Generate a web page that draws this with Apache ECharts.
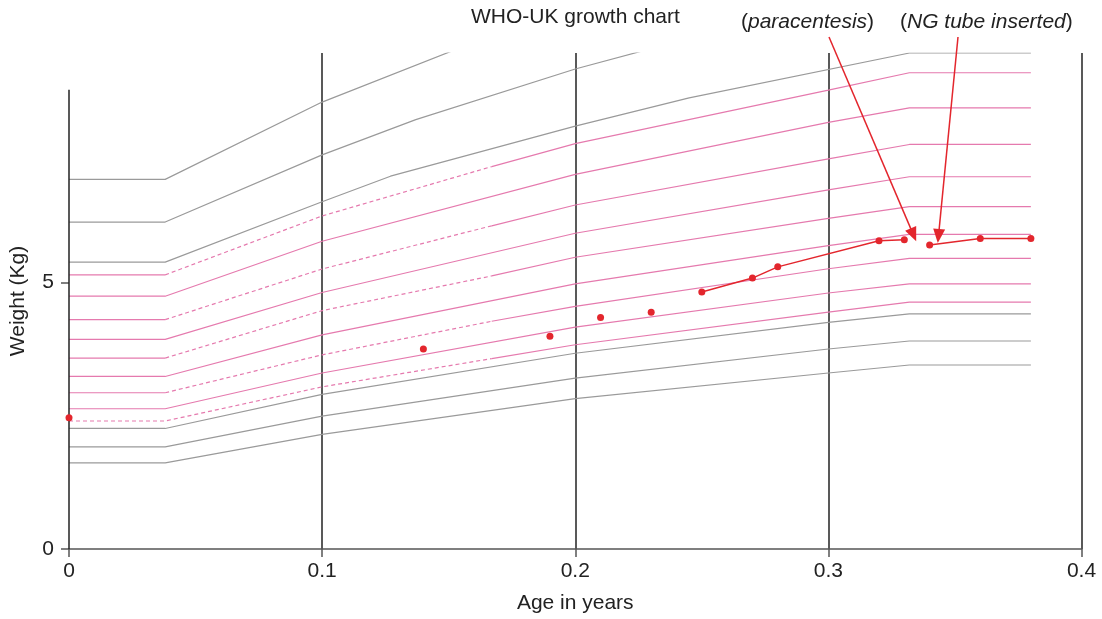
<!DOCTYPE html>
<html>
<head>
<meta charset="utf-8">
<title>WHO-UK growth chart</title>
<script src="https://cdn.jsdelivr.net/npm/echarts@6/dist/echarts.min.js"></script>
<style>
	html, body { margin: 0; padding: 0; background: #fff; }
	#chart { width: 1102px; height: 619px; }
</style>
</head>
<body>
<div id="chart"></div>
<script>
// reference curves, [age in years, weight kg]
var greyTop1 = [[0, 6.93], [0.038, 6.93], [0.1, 8.38], [0.16, 9.5]];
var greyTop2 = [[0, 6.13], [0.038, 6.13], [0.1, 7.39], [0.137, 8.05], [0.2, 9.0], [0.24, 9.51]];
var greyTop3 = [[0, 5.38], [0.038, 5.38], [0.1, 6.51], [0.127, 6.99], [0.2, 7.93], [0.245, 8.46], [0.332, 9.3], [0.38, 9.3]];
var greyLow1 = [[0, 2.26], [0.038, 2.26], [0.1, 2.9], [0.2, 3.67], [0.3, 4.25], [0.332, 4.41], [0.38, 4.41]];
var greyLow2 = [[0, 1.915], [0.038, 1.915], [0.1, 2.49], [0.2, 3.205], [0.3, 3.75], [0.332, 3.9], [0.38, 3.9]];
var greyLow3 = [[0, 1.615], [0.038, 1.615], [0.1, 2.15], [0.2, 2.82], [0.3, 3.3], [0.332, 3.45], [0.38, 3.45]];

// pink centiles: solid parts and dashed parts
var pink1Flat = [[0, 5.14], [0.038, 5.14]];
var pink1Dash = [[0.038, 5.14], [0.1, 6.245], [0.167, 7.17]];
var pink1 = [[0.167, 7.17], [0.2, 7.6], [0.3, 8.605], [0.332, 8.93], [0.38, 8.93]];
var pink2 = [[0, 4.74], [0.038, 4.74], [0.1, 5.77], [0.2, 7.025], [0.3, 8.0], [0.332, 8.27], [0.38, 8.27]];
var pink3Flat = [[0, 4.3], [0.038, 4.3]];
var pink3Dash = [[0.038, 4.3], [0.1, 5.25], [0.167, 6.06]];
var pink3 = [[0.167, 6.06], [0.2, 6.45], [0.3, 7.315], [0.332, 7.585], [0.38, 7.585]];
var pink4 = [[0, 3.93], [0.038, 3.93], [0.1, 4.81], [0.2, 5.92], [0.3, 6.735], [0.332, 6.98], [0.38, 6.98]];
var pink5Flat = [[0, 3.58], [0.038, 3.58]];
var pink5Dash = [[0.038, 3.58], [0.1, 4.47], [0.167, 5.12]];
var pink5 = [[0.167, 5.12], [0.2, 5.47], [0.3, 6.2], [0.332, 6.42], [0.38, 6.42]];
var pink6 = [[0, 3.235], [0.038, 3.235], [0.1, 4.015], [0.2, 4.97], [0.3, 5.69], [0.332, 5.9], [0.38, 5.9]];
var pink7Flat = [[0, 2.93], [0.038, 2.93]];
var pink7Dash = [[0.038, 2.93], [0.1, 3.64], [0.167, 4.27]];
var pink7 = [[0.167, 4.27], [0.2, 4.55], [0.3, 5.255], [0.332, 5.45], [0.38, 5.45]];
var pink8 = [[0, 2.63], [0.038, 2.63], [0.1, 3.3], [0.2, 4.16], [0.3, 4.8], [0.332, 4.97], [0.38, 4.97]];
var pink9Dash = [[0, 2.4], [0.038, 2.4], [0.1, 3.04], [0.167, 3.57]];
var pink9 = [[0.167, 3.57], [0.2, 3.83], [0.3, 4.44], [0.332, 4.63], [0.38, 4.63]];

// patient weights
var patientSingle = [[0, 2.46], [0.14, 3.75], [0.19, 3.99], [0.21, 4.34], [0.23, 4.44]];
var patientRun1 = [[0.25, 4.82], [0.27, 5.08], [0.28, 5.29], [0.32, 5.78], [0.33, 5.8]];
var patientRun2 = [[0.34, 5.7], [0.36, 5.82], [0.38, 5.82]];

// arrow tips (age, kg)
var paraTip = [0.3336, 5.89];
var ngTip = [0.3435, 5.87];

var leftAxisLine = [[0, 0], [0, 8.61]];

var GREY = '#9a9a9a';
var PINK = '#e57aae';
var RED = '#e3262d';
var FONT = 'Liberation Sans';

function curve(data, color, dashed) {
	return {
		type: 'line',
		data: data,
		symbol: 'none',
		silent: true,
		z: 2,
		lineStyle: {
			color: color,
			width: 1.2,
			type: dashed ? [4, 3] : 'solid'
		}
	};
}

var series = [
	curve(greyTop1, GREY), curve(greyTop2, GREY), curve(greyTop3, GREY),
	curve(greyLow1, GREY), curve(greyLow2, GREY), curve(greyLow3, GREY),
	curve(pink1Flat, PINK), curve(pink1Dash, PINK, true), curve(pink1, PINK),
	curve(pink2, PINK),
	curve(pink3Flat, PINK), curve(pink3Dash, PINK, true), curve(pink3, PINK),
	curve(pink4, PINK),
	curve(pink5Flat, PINK), curve(pink5Dash, PINK, true), curve(pink5, PINK),
	curve(pink6, PINK),
	curve(pink7Flat, PINK), curve(pink7Dash, PINK, true), curve(pink7, PINK),
	curve(pink8, PINK),
	curve(pink9Dash, PINK, true), curve(pink9, PINK),
	{
		type: 'line',
		data: leftAxisLine,
		symbol: 'none',
		silent: true,
		z: 3,
		lineStyle: { color: '#222', width: 1.5 }
	},
	{
		type: 'scatter',
		data: patientSingle,
		symbolSize: 7,
		z: 5,
		itemStyle: { color: RED, opacity: 1 }
	},
	{
		type: 'line',
		data: patientRun1,
		symbol: 'circle',
		symbolSize: 7,
		z: 5,
		lineStyle: { color: RED, width: 1.5 },
		itemStyle: { color: RED }
	},
	{
		type: 'line',
		data: patientRun2,
		symbol: 'circle',
		symbolSize: 7,
		z: 5,
		lineStyle: { color: RED, width: 1.5 },
		itemStyle: { color: RED }
	},
	{
		type: 'line',
		data: [],
		clip: false,
		z: 6,
		markLine: {
			silent: true,
			symbol: ['none', 'triangle'],
			symbolSize: [12, 14],
			label: { show: false },
			lineStyle: { color: RED, width: 1.5, type: 'solid' },
			data: [
				[{ x: 829, y: 37 }, { coord: paraTip }],
				[{ x: 958, y: 37 }, { coord: ngTip }]
			]
		}
	}
];

var noteRich = {
	n: { fontFamily: FONT, fontSize: 21, fontWeight: 'normal', color: '#222' },
	i: { fontFamily: FONT, fontSize: 21, fontWeight: 'normal', fontStyle: 'italic', color: '#222' }
};

var chart = echarts.init(document.getElementById('chart'));
var option = {
	animation: false,
	textStyle: { fontFamily: FONT, color: '#222' },
	title: [{
		text: 'WHO-UK growth chart',
		left: 471,
		top: 7,
		padding: 0,
		textStyle: { fontFamily: FONT, fontSize: 21, fontWeight: 'normal', color: '#222' }
	}, {
		text: '{n|(}{i|paracentesis}{n|)}',
		left: 741,
		top: 12,
		padding: 0,
		textStyle: { fontWeight: 'normal', rich: noteRich }
	}, {
		text: '{n|(}{i|NG tube inserted}{n|)}',
		left: 900,
		top: 12,
		padding: 0,
		textStyle: { fontWeight: 'normal', rich: noteRich }
	}],
	grid: {
		left: 67.5,
		right: 20.5,
		top: 53,
		bottom: 68.3,
		containLabel: false
	},
	xAxis: {
		type: 'value',
		min: 0,
		max: 0.4,
		interval: 0.1,
		name: 'Age in years',
		nameLocation: 'middle',
		nameGap: 44,
		nameTextStyle: { fontFamily: FONT, fontSize: 21, color: '#222' },
		axisLine: { show: true, lineStyle: { color: '#555', width: 1.5 } },
		axisTick: { show: true, length: 8, lineStyle: { color: '#555', width: 1.5 } },
		axisLabel: { fontFamily: FONT, fontSize: 21, color: '#222', margin: 12 },
		splitLine: { show: true, showMinLine: false, lineStyle: { color: '#222', width: 1.5 } }
	},
	yAxis: {
		type: 'value',
		min: 0,
		max: 9.3,
		interval: 5,
		name: 'Weight (Kg)',
		nameLocation: 'middle',
		nameGap: 40,
		nameTextStyle: { fontFamily: FONT, fontSize: 21, color: '#222' },
		axisLine: { show: false },
		axisTick: { show: true, length: 8, customValues: [0, 5], lineStyle: { color: '#555', width: 1.5 } },
		axisLabel: { fontFamily: FONT, fontSize: 21, color: '#222', margin: 15, customValues: [0, 5] },
		splitLine: { show: true, showMinLine: false, showMaxLine: false, lineStyle: { color: '#999', width: 1.2 } }
	},
	series: series
};
chart.setOption(option);

window.addEventListener('resize', function() {
	chart.resize();
});
</script>
</body>
</html>
